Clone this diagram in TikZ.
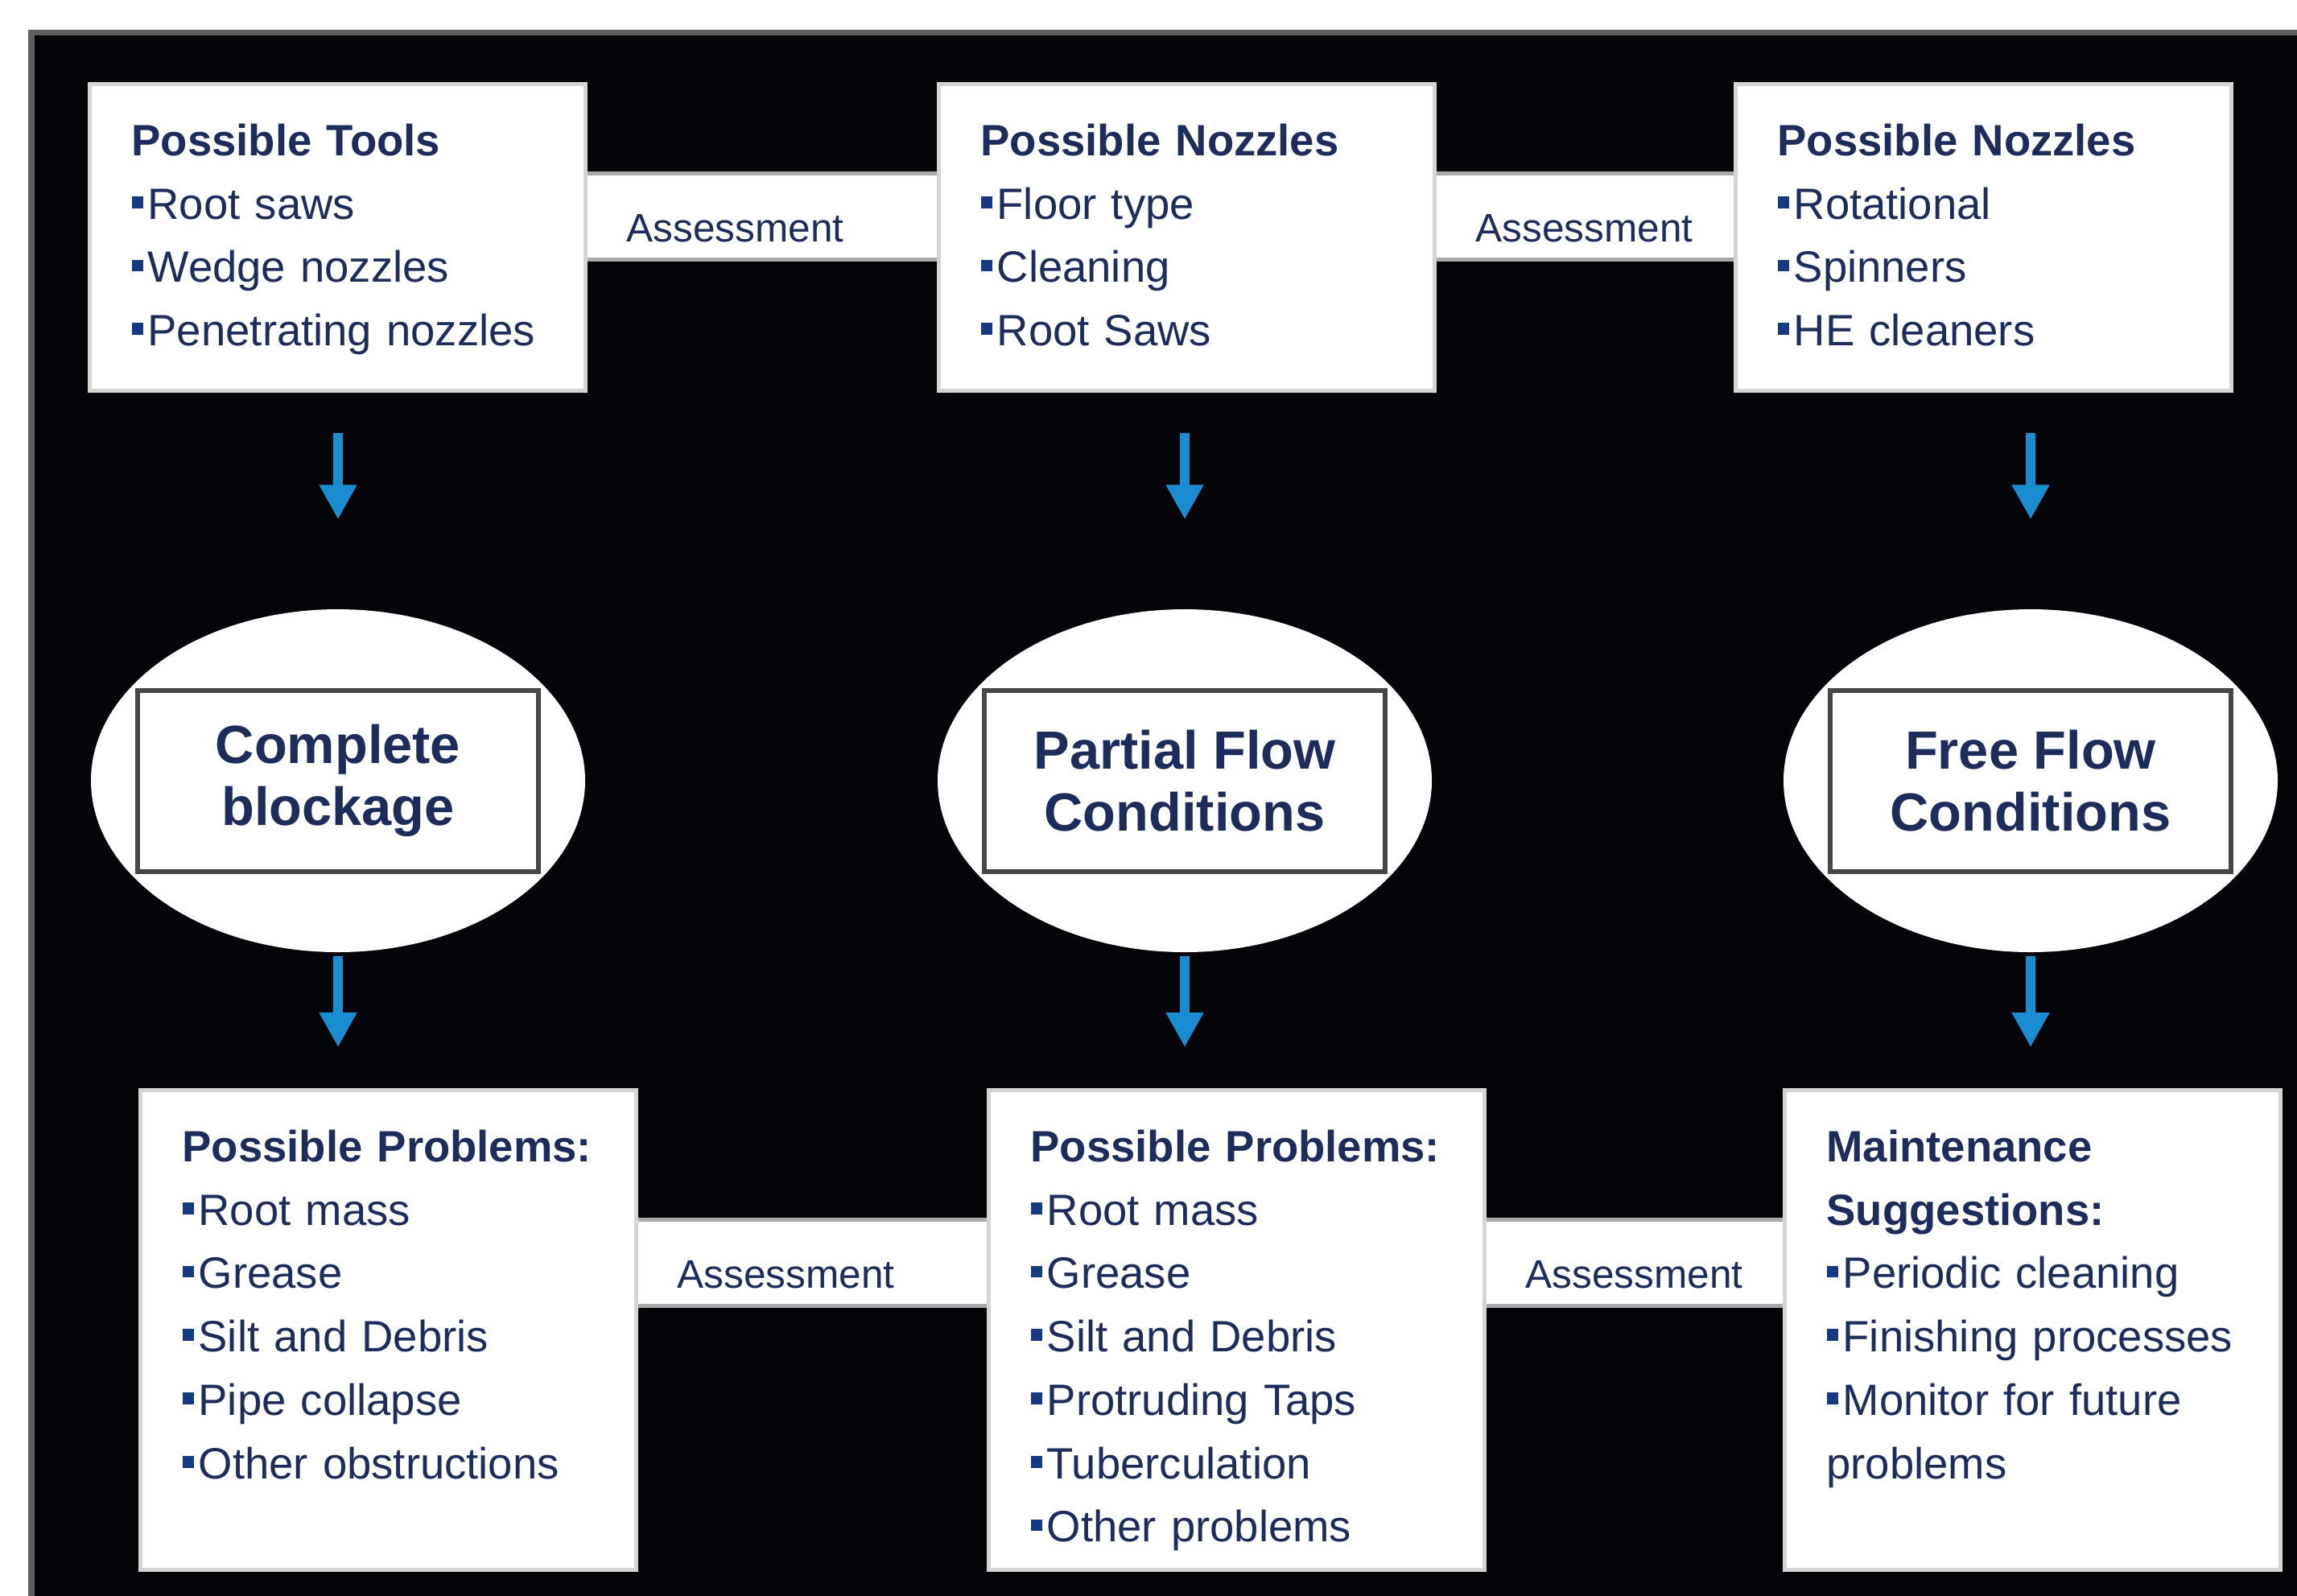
\documentclass[tikz,border=0pt]{standalone}
\usepackage{fontspec}
\setmainfont{Liberation Sans}
\usetikzlibrary{arrows.meta,shapes.geometric}
\definecolor{bgblack}{RGB}{4,5,8}
\definecolor{framegray}{RGB}{95,95,95}
\definecolor{navytext}{RGB}{30,44,92}
\definecolor{bulletblue}{RGB}{22,58,130}
\definecolor{arrowblue}{RGB}{25,140,210}
\definecolor{boxedge}{RGB}{212,214,212}
\definecolor{baredge}{RGB}{170,170,170}
\definecolor{rectedge}{RGB}{70,70,70}
\newcommand{\bul}{{\color{bulletblue}\rule[0.25em]{0.27em}{0.27em}}\hspace{0.1em}}
\begin{document}
\begin{tikzpicture}[x=1cm,y=-1cm,
	listbox/.style={draw=boxedge,line width=0.05cm,fill=white,anchor=north west,inner xsep=0.52cm,inner ysep=0pt,text width=5.12cm,align=left,text=navytext,font=\fontsize{15.5}{22.4}\selectfont,text height=0.89cm},
	assess/.style={draw=baredge,line width=0.05cm,fill=white,anchor=north west,inner xsep=0.51cm,inner ysep=0pt,minimum height=1.07cm,align=left,text=navytext,font=\fontsize{14.1}{16}\selectfont,text height=0.63cm,text depth=0pt},
	oval/.style={ellipse,fill=white,minimum width=6.14cm,minimum height=4.26cm,inner sep=0pt},
	condbox/.style={draw=rectedge,line width=0.06cm,minimum width=4.98cm,minimum height=2.25cm,inner sep=0pt,align=center,text=navytext,font=\bfseries\fontsize{19}{22}\selectfont},
	arr/.style={draw=arrowblue,line width=0.12cm,-{Triangle[width=0.44cm,length=0.43cm]}}]
	\def\top{2.92cm} % depth below first line, upper boxes
	\def\low{5.07cm} % same, lower boxes
	\useasboundingbox (0,0) rectangle (28.54,19.82);
	% black panel
	\draw[draw=framegray,line width=0.07cm,fill=bgblack] (0.39,0.40) rectangle (29.2,20.4);
	% upper row
	\node[assess,text width=3.37cm] (assA) at (7.25,2.13) {Assessment};
	\node[assess,text width=2.72cm] (assB) at (17.80,2.13) {Assessment};
	\node[listbox,text depth=\top] (tools) at (1.09,1.02) {\textbf{Possible Tools}\\ \bul Root saws\\ \bul Wedge nozzles\\ \bul Penetrating nozzles};
	\node[listbox,text depth=\top] (nozA) at (11.64,1.02) {\textbf{Possible Nozzles}\\ \bul Floor type\\ \bul Cleaning\\ \bul Root Saws};
	\node[listbox,text depth=\top] (nozB) at (21.54,1.02) {\textbf{Possible Nozzles}\\ \bul Rotational\\ \bul Spinners\\ \bul HE cleaners};
	% conditions
	\foreach \n/\x/\t in {block/4.20/{Complete\\blockage},partial/14.72/{Partial Flow\\Conditions},free/25.23/{Free Flow\\Conditions}}{
		\node[oval] (\n) at (\x,9.70) {};
		\node[condbox] (\n-t) at (\n) {\t};
	}
	% lower row
	\node[assess,text width=3.36cm] (assC) at (7.88,15.13) {Assessment};
	\node[assess,text width=2.71cm] (assD) at (18.42,15.13) {Assessment};
	\node[listbox,text depth=\low] (probA) at (1.72,13.52) {\textbf{Possible Problems:}\\ \bul Root mass\\ \bul Grease\\ \bul Silt and Debris\\ \bul Pipe collapse\\ \bul Other obstructions};
	\node[listbox,text depth=\low] (probB) at (12.26,13.52) {\textbf{Possible Problems:}\\ \bul Root mass\\ \bul Grease\\ \bul Silt and Debris\\ \bul Protruding Taps\\ \bul Tuberculation\\ \bul Other problems};
	\node[listbox,text depth=\low] (maint) at (22.15,13.52) {\textbf{Maintenance}\\ \textbf{Suggestions:}\\ \bul Periodic cleaning\\ \bul Finishing processes\\ \bul Monitor for future\\ problems};
	% arrows
	\foreach \a/\b in {tools/block,nozA/partial,nozB/free}
		\draw[arr,shorten <=0.5cm,shorten >=1.11cm] (\a.south -| \b) -- (\b.north);
	\foreach \a/\b in {block/probA,partial/probB,free/maint}
		\draw[arr,shorten <=0.04cm,shorten >=0.51cm] (\a.south) -- (\a.south |- \b.north);
\end{tikzpicture}
\end{document}
